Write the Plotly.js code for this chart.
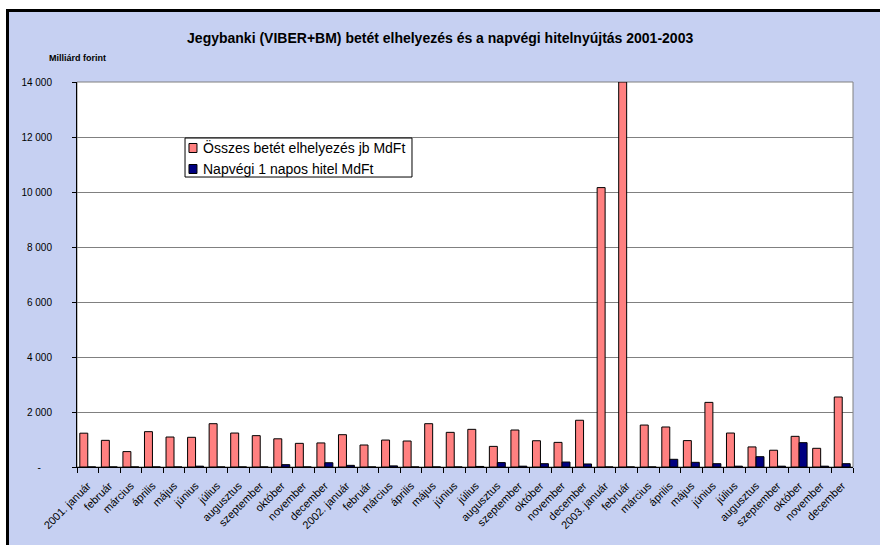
<!DOCTYPE html>
<html>
<head>
<meta charset="utf-8">
<script src="https://cdn.plot.ly/plotly-3.0.1.min.js"></script>
<style>
  html, body { margin: 0; padding: 0; background: #ffffff; width: 880px; height: 545px; overflow: hidden; }
  #wrap { position: absolute; left: 6px; top: 9px; width: 874px; height: 536px;
          border-left: 3px solid #000; border-top: 3px solid #000; background: #c6d0f2; }
  #chart { width: 871px; height: 533px; }
</style>
</head>
<body>
<div id="wrap"><div id="chart"></div></div>
<script>
// Month labels (36 months, 2001-2003)
const monthLabels = [
  "2001. január","február","március","április","május","június","július","augusztus","szeptember","október","november","december",
  "2002. január","február","március","április","május","június","július","augusztus","szeptember","október","november","december",
  "2003. január","február","március","április","május","június","július","augusztus","szeptember","október","november","december"
];
const monthIndex = monthLabels.map((_, i) => i);

// Összes betét elhelyezés jb MdFt (Milliárd forint)
const betet = [
  1230, 970, 560, 1285, 1090, 1080, 1575, 1235, 1140, 1025, 860, 875,
  1175, 800, 980, 945, 1575, 1260, 1370, 750, 1345, 955, 895, 1700,
  10160, 14000, 1525, 1455, 960, 2350, 1235, 730, 610, 1115, 680, 2545
];

// Napvégi 1 napos hitel MdFt
const hitel = [
  0, 0, 0, 0, 0, 30, 0, 0, 0, 85, 0, 155,
  60, 0, 40, 0, 0, 0, 20, 160, 30, 120, 180, 110,
  0, 0, 0, 280, 170, 120, 30, 375, 30, 885, 30, 120
];

const seriesNames = ["Összes betét elhelyezés jb MdFt", "Napvégi 1 napos hitel MdFt"];
const seriesColors = ["#ff8080", "#000080"];

const yTickVals = [0, 2000, 4000, 6000, 8000, 10000, 12000, 14000];
const yTickText = ["-\u00a0\u00a0\u00a0\u00a0", "2 000", "4 000", "6 000", "8 000", "10 000", "12 000", "14 000"];

const font = "Arial, 'Liberation Sans', sans-serif";

const traces = [
  {
    type: "bar", name: seriesNames[0],
    x: monthIndex, y: betet,
    marker: { color: seriesColors[0], line: { color: "#000000", width: 1 } }
  },
  {
    type: "bar", name: seriesNames[1],
    x: monthIndex, y: hitel,
    marker: { color: seriesColors[1], line: { color: "#000000", width: 1 } }
  }
];

// custom legend (box + swatches + text) in paper coordinates
const lg = { x0: 0.1392, x1: 0.4317, y0: 0.7532, y1: 0.8545,
             sx0: 0.1443, sx1: 0.1546, tx: 0.1598,
             rows: [0.8286, 0.7740], half: 0.0117 };

const shapes = [
  { type: "rect", xref: "paper", yref: "paper", x0: 0, x1: 1, y0: 0, y1: 1,
    line: { color: "#808080", width: 1 }, fillcolor: "rgba(0,0,0,0)", layer: "below" },
  { type: "rect", xref: "paper", yref: "paper", x0: lg.x0, x1: lg.x1, y0: lg.y0, y1: lg.y1,
    line: { color: "#000000", width: 1 }, fillcolor: "#ffffff", layer: "above" }
];
const annotations = [
  { text: "<b>Milliárd forint</b>", xref: "paper", yref: "paper",
    x: -0.039, y: 1.062, xanchor: "left", yanchor: "middle", showarrow: false,
    font: { family: font, size: 9, color: "#000000" } }
];
seriesNames.forEach((n, i) => {
  const yc = lg.rows[i];
  shapes.push({ type: "rect", xref: "paper", yref: "paper", x0: lg.sx0, x1: lg.sx1,
    y0: yc - lg.half, y1: yc + lg.half, line: { color: "#000000", width: 1 },
    fillcolor: seriesColors[i], layer: "above" });
  annotations.push({ text: n, xref: "paper", yref: "paper", x: lg.tx, y: yc,
    xanchor: "left", yanchor: "middle", showarrow: false,
    font: { family: font, size: 14, color: "#000000" } });
});

const layout = {
  width: 871, height: 533,
  margin: { l: 68, r: 27, t: 70, b: 78 },
  paper_bgcolor: "#c6d0f2",
  plot_bgcolor: "#ffffff",
  font: { family: font, size: 10, color: "#000000" },
  barmode: "group",
  bargap: 0.26,
  bargroupgap: 0,
  showlegend: false,
  title: {
    text: "<b>Jegybanki (VIBER+BM) betét elhelyezés és a napvégi hitelnyújtás 2001-2003</b>",
    font: { family: font, size: 14, color: "#000000" },
    xref: "container", x: 0.495, xanchor: "center",
    yref: "container", y: 0.951, yanchor: "middle"
  },
  xaxis: {
    type: "linear",
    range: [-0.5, 35.5],
    tickmode: "array", tickvals: monthIndex, ticktext: monthLabels,
    tickangle: -45, ticks: "", showgrid: false, zeroline: false,
    showline: true, linecolor: "#000000", linewidth: 1,
    ticklabelstandoff: 7,
    tickfont: { family: font, size: 11, color: "#000000" },
    minor: { ticks: "outside", tick0: -0.5, dtick: 1, ticklen: 5, tickcolor: "#000000", showgrid: false }
  },
  yaxis: {
    range: [0, 14000],
    tickmode: "array", tickvals: yTickVals, ticktext: yTickText,
    ticks: "outside", ticklen: 4, tickcolor: "#000000",
    ticklabelstandoff: 18,
    showgrid: true, gridcolor: "#808080", gridwidth: 1,
    zeroline: false,
    showline: true, linecolor: "#000000", linewidth: 1,
    tickfont: { family: font, size: 10, color: "#000000" }
  },
  shapes: shapes,
  annotations: annotations
};

Plotly.newPlot("chart", traces, layout, { displayModeBar: false, staticPlot: true });
</script>
</body>
</html>
